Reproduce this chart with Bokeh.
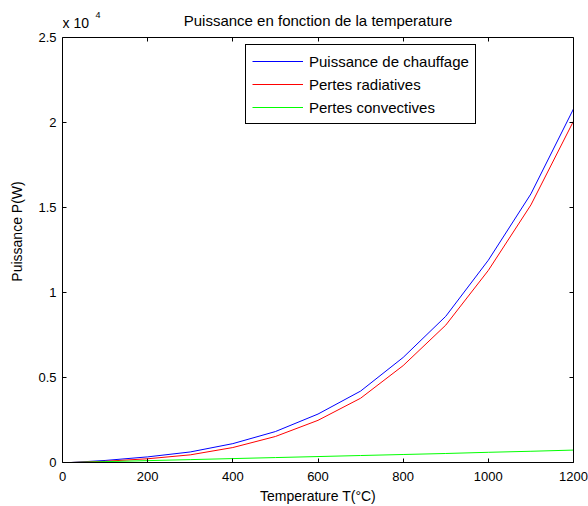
from bokeh.plotting import figure
from bokeh.models import LinearAxis, Range1d, FixedTicker, Label, Legend, LegendItem
from bokeh.embed import file_html
from bokeh.resources import INLINE

temperature = [20, 100, 200, 300, 400, 500, 600, 700, 800, 900, 1000, 1100, 1200]
p_chauffage = [0, 120, 330, 620, 1110, 1820, 2850, 4200, 6180, 8600, 11900, 15800, 20800]
p_radiatives = [0, 70, 220, 450, 880, 1530, 2480, 3780, 5700, 8080, 11300, 15150, 20080]
p_convectives = [0, 50, 110, 170, 230, 290, 350, 410, 470, 530, 600, 660, 730]

x_ticks = [0, 200, 400, 600, 800, 1000, 1200]
y_ticks = [0, 5000, 10000, 15000, 20000, 25000]
y_tick_labels = ["0", "0.5", "1", "1.5", "2", "2.5"]
title_text = "Puissance en fonction de la temperature"
multiplier_text = "x 10"
multiplier_exp = "4"

FONT = "Liberation Sans"
W, H = 588, 506
LEFT, RIGHT, BOTTOM = 62, 15, 44
BOX_TOP = 37                      # pixel row of the axes box top
frame_h = H - BOTTOM
y_max = 25000
y_end = y_max * frame_h / (frame_h - BOX_TOP)   # frame extends above the box

p = figure(width=W, height=H, output_backend="svg", toolbar_location=None,
           x_range=Range1d(0, 1200), y_range=Range1d(0, y_end))
p.title.visible = False
p.min_border_left = LEFT
p.min_border_right = RIGHT
p.min_border_top = 0
p.min_border_bottom = BOTTOM
p.xgrid.visible = False
p.ygrid.visible = False
p.outline_line_color = None
p.background_fill_color = "white"
p.border_fill_color = "white"

def style_axis(ax, labels=True):
    ax.axis_line_color = "black"
    ax.major_tick_in = 4
    ax.major_tick_out = 0
    ax.minor_tick_in = 0
    ax.minor_tick_out = 0
    ax.major_tick_line_color = "black"
    ax.major_label_text_font = FONT
    ax.major_label_text_font_size = "13px"
    ax.major_label_text_color = "black"
    ax.axis_label_text_font = FONT
    ax.axis_label_text_font_size = "14px"
    ax.axis_label_text_font_style = "normal"
    ax.axis_label_text_color = "black"
    if not labels:
        ax.major_label_overrides = {t: "" for t in ax.ticker.ticks}
        ax.major_label_standoff = 0

xa = p.xaxis[0]
xa.ticker = FixedTicker(ticks=x_ticks)
xa.axis_label = "Temperature T(°C)"
xa.axis_label_standoff = 4
xa.major_label_standoff = 9
style_axis(xa)

ya = p.yaxis[0]
ya.ticker = FixedTicker(ticks=y_ticks)
ya.bounds = (0, y_max)
ya.major_label_overrides = {t: l for t, l in zip(y_ticks, y_tick_labels)}
ya.axis_label = "Puissance P(W)"
ya.axis_label_standoff = 10
ya.major_label_standoff = 6
style_axis(ya)

top = LinearAxis(ticker=FixedTicker(ticks=x_ticks), fixed_location=y_max)
style_axis(top, labels=False)
p.add_layout(top, "above")
right = LinearAxis(ticker=FixedTicker(ticks=y_ticks), bounds=(0, y_max))
style_axis(right, labels=False)
p.add_layout(right, "right")

r1 = p.line(temperature, p_chauffage, line_color="#0000ff", line_width=1)
r2 = p.line(temperature, p_radiatives, line_color="#ff0000", line_width=1)
r3 = p.line(temperature, p_convectives, line_color="#00ff00", line_width=1)

legend = Legend(items=[LegendItem(label="Puissance de chauffage", renderers=[r1]),
                       LegendItem(label="Pertes radiatives", renderers=[r2]),
                       LegendItem(label="Pertes convectives", renderers=[r3])],
                location=(183, 338))
legend.label_text_font = FONT
legend.label_text_font_size = "15px"
legend.label_text_color = "black"
legend.glyph_width = 51
legend.glyph_height = 20
legend.label_height = 20
legend.spacing = 3
legend.padding = 6
legend.margin = 0
legend.label_standoff = 6
legend.border_line_color = "black"
legend.border_line_alpha = 1
legend.border_line_width = 1
legend.background_fill_alpha = 1
p.add_layout(legend, "center")

# title and exponent, positioned in frame screen units (origin at frame bottom-left)
p.add_layout(Label(x=(W - LEFT - RIGHT) / 2, y=frame_h - 20, x_units="screen", y_units="screen",
                   text=title_text, text_font=FONT, text_font_size="15px",
                   text_align="center", text_baseline="alphabetic", text_color="black"))
p.add_layout(Label(x=0, y=frame_h - 22, x_units="screen", y_units="screen",
                   text=multiplier_text, text_font=FONT, text_font_size="14px",
                   text_baseline="alphabetic", text_color="black"))
p.add_layout(Label(x=33, y=frame_h - 14, x_units="screen", y_units="screen",
                   text=multiplier_exp, text_font=FONT, text_font_size="9px",
                   text_baseline="alphabetic", text_color="black"))

open("out.html", "w").write(file_html(p, INLINE))
